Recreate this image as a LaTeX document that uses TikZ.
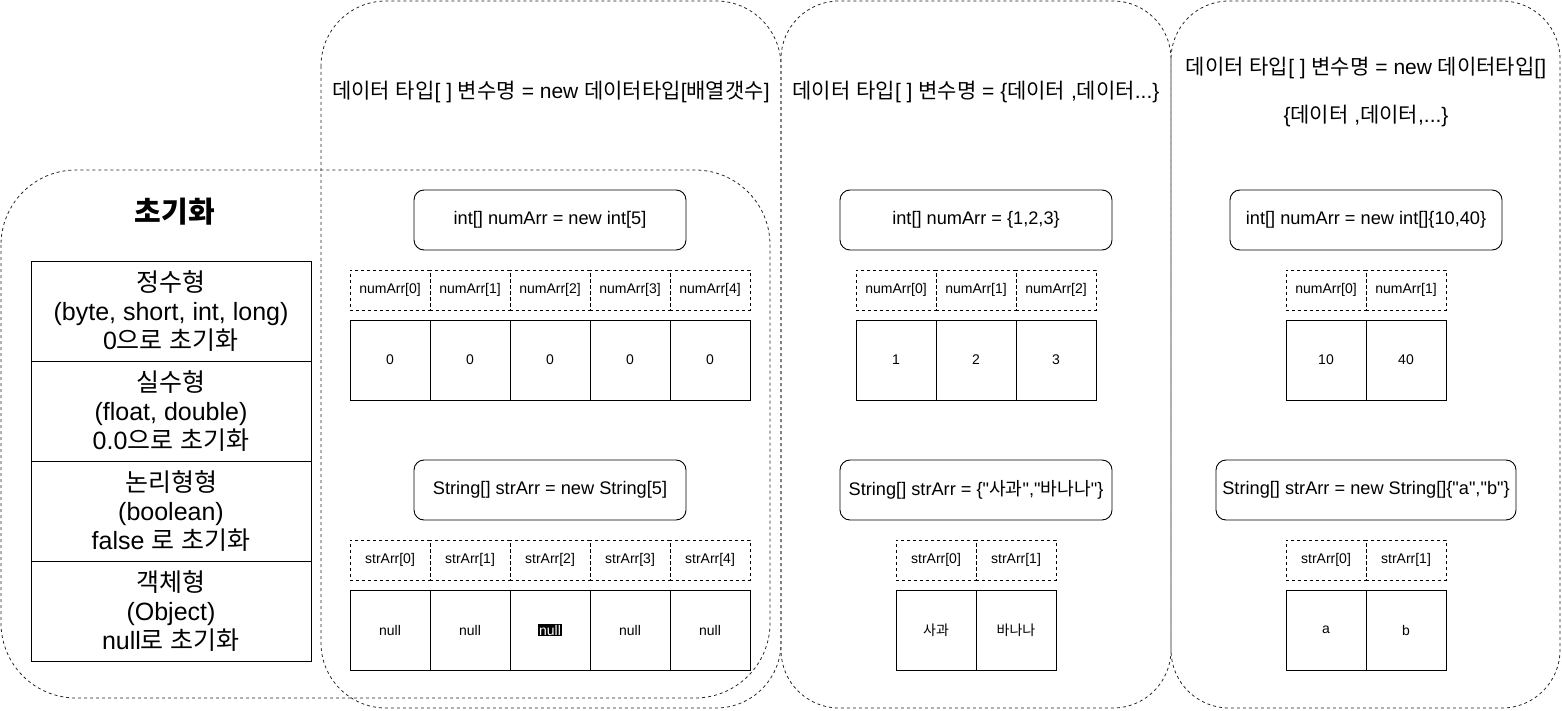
\documentclass[tikz,border=0pt]{standalone}
\usepackage{fontspec}
\setmainfont{Liberation Sans}
\newfontfamily\krfont{Noto Sans CJK KR}
\newfontfamily\enfont{Liberation Sans}
\XeTeXinterchartokenstate=1
\newXeTeXintercharclass\krclass
\makeatletter
\count@="AC00
\loop
  \XeTeXcharclass\count@=\krclass
\ifnum\count@<"D7A3
  \advance\count@ by 1
\repeat
\makeatother
\XeTeXinterchartoks 0 \krclass = {\krfont}
\XeTeXinterchartoks 4095 \krclass = {\krfont}
\XeTeXinterchartoks \krclass 0 = {\enfont}
\XeTeXinterchartoks \krclass 4095 = {\enfont}
\XeTeXinterchartoks 4095 0 = {\enfont}
\begin{document}
\begin{tikzpicture}[x=1pt,y=-1pt,
  cont/.style={draw=black!85, line width=0.8pt, dash pattern=on 3pt off 3pt},
  code/.style={draw, line width=0.9pt, rounded corners=10pt, minimum width=272pt, minimum height=60pt, inner sep=0pt, font=\fontsize{18.2}{21}\selectfont},
  idx/.style={draw, line width=0.8pt, dash pattern=on 3pt off 3pt, minimum width=80pt, minimum height=40pt, inner sep=0pt, font=\fontsize{14}{16}\selectfont},
  val/.style={draw, line width=0.9pt, minimum width=80pt, minimum height=80pt, inner sep=0pt, font=\fontsize{14}{16}\selectfont},
  row/.style={draw, line width=0.9pt, minimum width=280pt, minimum height=100pt, inner sep=0pt, align=center, font=\fontsize{25}{29}\selectfont},
  head/.style={inner sep=0pt, font=\fontsize{21}{24}\selectfont}
]
\useasboundingbox (0,0) rectangle (1562,711);

% containers
\draw[cont, rounded corners=75pt] (1,170) rectangle (770,698);
\draw[cont, rounded corners=65pt] (321,1) rectangle (781,708);
\draw[cont, rounded corners=58pt] (781,1) rectangle (1171,708);
\draw[cont, rounded corners=58pt] (1171,1) rectangle (1560,708);

% headings
\node[head] (h1) at (551,92) {데이터 타입[ ] 변수명 = new 데이터타입[배열갯수]};
\node[head] (h2) at (976,92) {데이터 타입[ ] 변수명 = \{데이터 ,데이터...\}};
\node[head] (h3a) at (1366,68) {데이터 타입[ ] 변수명 = new 데이터타입[]};
\node[head] (h3b) at (1366,116) {\{데이터 ,데이터,...\}};

% left: initialisation table
\node[font=\bfseries\fontsize{29}{34}\selectfont] (title) at (175,212) {초기화};
\node[row] (r1) at (171,311) {정수형\\(byte, short, int, long)\\0으로 초기화};
\node[row] (r2) at (171,411) {실수형\\(float, double)\\0.0으로 초기화};
\node[row] (r3) at (171,511) {논리형형\\(boolean)\\false 로 초기화};
\node[row] (r4) at (171,611) {객체형\\(Object)\\null로 초기화};

% column 1
\node[code] (c1a) at (550,220) {int[] numArr = new int[5]};
\foreach \i in {0,...,4} {
  \node[idx] (n1i\i) at (390+80*\i,290) {numArr[\i]};
  \node[val] (n1v\i) at (390+80*\i,360) {0};
}
\node[code] (c1b) at (550,490) {String[] strArr = new String[5]};
\foreach \i in {0,...,4} {
  \node[idx] (s1i\i) at (390+80*\i,560) {strArr[\i]};
}
\node[val] (s1v0) at (390,630) {null};
\node[val] (s1v1) at (470,630) {null};
\node[val] (s1v2) at (550,630) {};
\node[fill=black, text=white, inner sep=1pt, font=\fontsize{14}{16}\selectfont] (s1v2t) at (s1v2) {null};
\node[val] (s1v3) at (630,630) {null};
\node[val] (s1v4) at (710,630) {null};

% column 2
\node[code] (c2a) at (976,220) {int[] numArr = \{1,2,3\}};
\foreach \i/\v in {0/1,1/2,2/3} {
  \node[idx] (n2i\i) at (896+80*\i,290) {numArr[\i]};
  \node[val] (n2v\i) at (896+80*\i,360) {\v};
}
\node[code] (c2b) at (976,490) {String[] strArr = \{"사과","바나나"\}};
\node[idx] (s2i0) at (936,560) {strArr[0]};
\node[idx] (s2i1) at (1016,560) {strArr[1]};
\node[val] (s2v0) at (936,630) {사과};
\node[val] (s2v1) at (1016,630) {바나나};

% column 3
\node[code] (c3a) at (1366,220) {int[] numArr = new int[]\{10,40\}};
\node[idx] (n3i0) at (1326,290) {numArr[0]};
\node[idx] (n3i1) at (1406,290) {numArr[1]};
\node[val] (n3v0) at (1326,360) {10};
\node[val] (n3v1) at (1406,360) {40};
\node[code, minimum width=300pt] (c3b) at (1366,490) {String[] strArr = new String[]\{"a","b"\}};
\node[idx] (s3i0) at (1326,560) {strArr[0]};
\node[idx] (s3i1) at (1406,560) {strArr[1]};
\node[val] (s3v0) at (1326,630) {a};
\node[val] (s3v1) at (1406,630) {b};
\end{tikzpicture}
\end{document}
